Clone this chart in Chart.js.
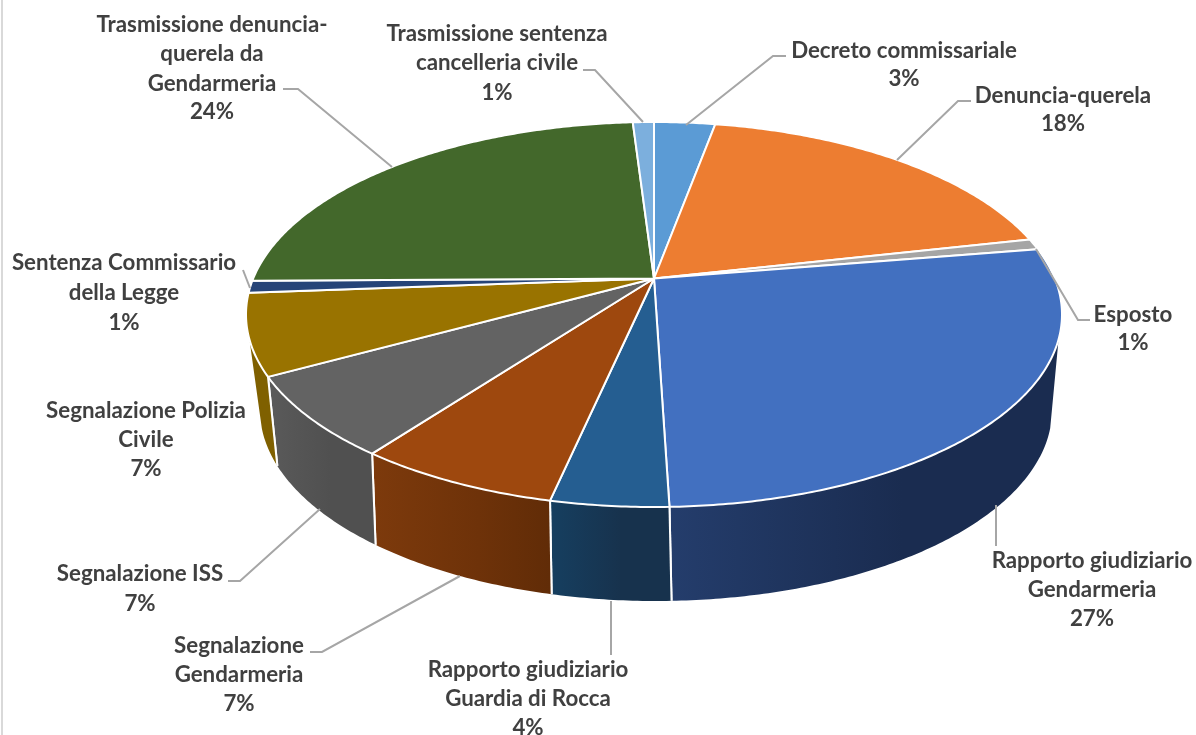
<!DOCTYPE html>
<html>
<head>
<meta charset="utf-8">
<style>
  html, body { margin: 0; padding: 0; background: #fff; overflow: hidden; }
  canvas { display: block; }
</style>
<script src="https://cdn.jsdelivr.net/npm/chart.js@4/dist/chart.umd.min.js"></script>
</head>
<body>
<canvas id="chart" width="1196" height="735"></canvas>
<script>
const categories = [
  "Decreto commissariale",
  "Denuncia-querela",
  "Esposto",
  "Rapporto giudiziario Gendarmeria",
  "Rapporto giudiziario Guardia di Rocca",
  "Segnalazione Gendarmeria",
  "Segnalazione ISS",
  "Segnalazione Polizia Civile",
  "Sentenza Commissario della Legge",
  "Trasmissione denuncia-querela da Gendarmeria",
  "Trasmissione sentenza cancelleria civile",
];
const shares = [2.9, 18.6, 0.9, 27.1, 3.9, 6.8, 6.8, 6.8, 1.0, 24.2, 1.0];
const percentLabels = ["3%", "18%", "1%", "27%", "4%", "7%", "7%", "7%", "1%", "24%", "1%"];

const topColors = ["#5b9bd5", "#ed7d31", "#a5a5a5", "#4270c0", "#255e91", "#9e480e", "#636363", "#997300", "#264478", "#43682b", "#7cafdd"];
const wallColors = [
  null, null, null,
  ["#243d6c", "#1a2c50", "#1a2c50"],
  ["#163f60", "#17324d", "#17324d"],
  ["#7d3a0c", "#6e3209", "#612c07"],
  ["#5a5a5a", "#505050", "#505050"],
  ["#7f6000", "#7f6000", "#7f6000"],
  null, null, null,
];

// wrapped text, centre x, line y's, leader line
const labelBoxes = [
  { lines: ["Decreto commissariale", "3%"], x: 904, y: [51, 79], leader: [[686, 125], [773, 56], [786, 56]] },
  { lines: ["Denuncia-querela", "18%"], x: 1063, y: [96, 124], leader: [[897, 160], [958, 101], [971, 101]] },
  { lines: ["Esposto", "1%"], x: 1133, y: [315, 343], leader: [[1036, 249], [1078, 320], [1090, 320]] },
  { lines: ["Rapporto giudiziario", "Gendarmeria", "27%"], x: 1092, y: [561, 590, 619], leader: [[996, 505], [996, 546]] },
  { lines: ["Rapporto giudiziario", "Guardia di Rocca", "4%"], x: 528, y: [670, 699, 728], leader: [[611, 601], [611, 655]] },
  { lines: ["Segnalazione", "Gendarmeria", "7%"], x: 239, y: [646, 675, 704], leader: [[460, 576], [322, 652], [310, 652]] },
  { lines: ["Segnalazione ISS", "7%"], x: 140, y: [574, 604], leader: [[320, 509], [240, 581], [228, 581]] },
  { lines: ["Segnalazione Polizia", "Civile", "7%"], x: 146, y: [411, 440, 469], leader: null },
  { lines: ["Sentenza Commissario", "della Legge", "1%"], x: 124, y: [263, 293, 323], leader: [[243, 270], [250, 288]] },
  { lines: ["Trasmissione denuncia-", "querela da", "Gendarmeria", "24%"], x: 212, y: [25, 54, 84, 112], leader: [[392, 167], [298, 89], [283, 89]] },
  { lines: ["Trasmissione sentenza", "cancelleria civile", "1%"], x: 497, y: [34, 63, 93], leader: [[643, 122], [595, 70], [583, 70]] },
];

// the tilted disc: top and bottom rims, e = how far the apex sits off the ellipse centre
const TOP_RIM = { cx: 654, cy: 314.5, rx: 408, ry: 192.5, e: -0.187 };
const BOTTOM_RIM = { cx: 656, cy: 410, rx: 396, ry: 191, e: -0.22 };
const WALL_FROM = 108 * Math.PI / 180 - Math.PI / 2;
const WALL_TO = 252 * Math.PI / 180 - Math.PI / 2;

function project(rim, angle) {
  const u = Math.cos(angle);
  const v = Math.sin(angle);
  const k = 1 + rim.e * v;
  return [
    rim.cx + rim.rx * u * Math.sqrt(1 - rim.e * rim.e) / k,
    rim.cy + rim.ry * (v + rim.e) / k,
  ];
}

function tracePath(ctx, rim, from, to, moveFirst) {
  const steps = Math.max(2, Math.ceil(Math.abs(to - from) / 0.01));
  for (let i = 0; i <= steps; i++) {
    const p = project(rim, from + (to - from) * i / steps);
    if (i === 0 && moveFirst) ctx.moveTo(p[0], p[1]);
    else ctx.lineTo(p[0], p[1]);
  }
}

function drawWall(ctx, arc, index) {
  const from = Math.max(arc.startAngle, WALL_FROM);
  const to = Math.min(arc.endAngle, WALL_TO);
  if (from >= to || !wallColors[index]) return;

  const a = project(TOP_RIM, from);
  const b = project(TOP_RIM, to);
  const grad = ctx.createLinearGradient(b[0], 0, a[0], 0);
  grad.addColorStop(0, wallColors[index][0]);
  grad.addColorStop(0.6, wallColors[index][1]);
  grad.addColorStop(1, wallColors[index][2]);

  ctx.beginPath();
  tracePath(ctx, TOP_RIM, from, to, true);
  tracePath(ctx, BOTTOM_RIM, to, from, false);
  ctx.closePath();
  ctx.fillStyle = grad;
  ctx.fill();

  // white seam only between two wall pieces
  ctx.strokeStyle = "#fff";
  ctx.lineWidth = 2;
  [from, to].forEach((angle) => {
    if (angle === WALL_FROM || angle === WALL_TO) return;
    const t = project(TOP_RIM, angle);
    const l = project(BOTTOM_RIM, angle);
    ctx.beginPath();
    ctx.moveTo(t[0], t[1]);
    ctx.lineTo(l[0], l[1]);
    ctx.stroke();
  });
}

function drawTop(ctx, arc, index) {
  const apex = [TOP_RIM.cx, TOP_RIM.cy + TOP_RIM.ry * TOP_RIM.e];
  ctx.beginPath();
  ctx.moveTo(apex[0], apex[1]);
  tracePath(ctx, TOP_RIM, arc.startAngle, arc.endAngle, false);
  ctx.closePath();
  ctx.fillStyle = topColors[index];
  ctx.fill();
  ctx.strokeStyle = "#fff";
  ctx.lineWidth = 2;
  ctx.lineJoin = "round";
  ctx.stroke();
}

const tiltedPie = {
  id: "tiltedPie",
  beforeDatasetDraw(chart) {
    const ctx = chart.ctx;
    const arcs = chart.getDatasetMeta(0).data;
    ctx.save();
    arcs.forEach((arc, i) => drawWall(ctx, arc, i));
    arcs.forEach((arc, i) => drawTop(ctx, arc, i));
    ctx.restore();
    return false;
  },
};

const pieLabels = {
  id: "pieLabels",
  afterDraw(chart) {
    const ctx = chart.ctx;
    ctx.save();

    ctx.fillStyle = "#d9d9d9";
    ctx.fillRect(1, 0, 2, 735);

    ctx.strokeStyle = "#a6a6a6";
    ctx.lineWidth = 2;
    labelBoxes.forEach((box) => {
      if (!box.leader) return;
      ctx.beginPath();
      box.leader.forEach((p, i) => (i ? ctx.lineTo(p[0], p[1]) : ctx.moveTo(p[0], p[1])));
      ctx.stroke();
    });

    ctx.fillStyle = "#404040";
    ctx.font = "bold 22.3px Lato";
    ctx.textAlign = "center";
    ctx.textBaseline = "middle";
    labelBoxes.forEach((box) => {
      box.lines.forEach((line, i) => ctx.fillText(line, box.x, box.y[i]));
    });
    ctx.restore();
  },
};

new Chart(document.getElementById("chart"), {
  type: "pie",
  data: {
    labels: categories,
    datasets: [{ data: shares, backgroundColor: topColors, percentLabels }],
  },
  options: {
    responsive: false,
    animation: false,
    events: [],
    plugins: {
      legend: { display: false },
      tooltip: { enabled: false },
    },
  },
  plugins: [tiltedPie, pieLabels],
});
</script>
</body>
</html>
